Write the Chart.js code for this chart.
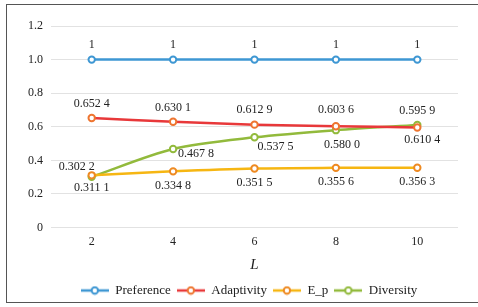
<!DOCTYPE html>
<html><head><meta charset="utf-8">
<script src="https://cdn.jsdelivr.net/npm/chart.js@4/dist/chart.umd.min.js"></script>
<style>
html,body{margin:0;padding:0;background:#fff;}
#wrap{position:relative;width:478px;height:307px;}
#frame{position:absolute;left:6px;top:4px;width:480px;height:299px;border-left:1.5px solid #555;border-top:1.5px solid #555;border-bottom:1.5px solid #555;box-sizing:border-box;pointer-events:none;}
canvas{position:absolute;left:0;top:0;}
</style></head>
<body><div id="wrap"><canvas id="c" width="478" height="307"></canvas><div id="frame"></div></div>
<script>
const categories = ['2','4','6','8','10'];
const preference = [1, 1, 1, 1, 1];
const adaptivity = [0.6524, 0.6301, 0.6129, 0.6036, 0.5959];
const eP = [0.3111, 0.3348, 0.3515, 0.3556, 0.3563];
const diversity = [0.3022, 0.4678, 0.5375, 0.5800, 0.6104];
const yTicks = [0, 0.2, 0.4, 0.6, 0.8, 1.0, 1.2];

const FONT = "'Liberation Serif', 'Times New Roman', serif";

function fmt(v){
  if (v === 1) return '1';
  const s = v.toFixed(4);
  return s.slice(0,5) + ' ' + s.slice(5);
}

function legendIcon(lineColor, markerColor){
  const c = document.createElement('canvas');
  c.width = 28; c.height = 10;
  const g = c.getContext('2d');
  g.strokeStyle = lineColor; g.lineWidth = 2.5;
  g.beginPath(); g.moveTo(0,5); g.lineTo(28,5); g.stroke();
  g.fillStyle = '#fff'; g.strokeStyle = markerColor; g.lineWidth = 2;
  g.beginPath(); g.arc(14,5,3.2,0,Math.PI*2); g.fill(); g.stroke();
  return c;
}

const series = [
  {label:'Preference', data:preference, line:'#3e97d3', marker:'#3e97d3', dx:[0,0,0,0,0], dy:[-15,-15,-15,-15,-15]},
  {label:'Adaptivity', data:adaptivity, line:'#e8383a', marker:'#ee7530', dx:[0,0,0,0,0], dy:[-14,-14,-15,-16,-17]},
  {label:'E_p', data:eP, line:'#f6b612', marker:'#ee8a22', dx:[0,0,0,0,0], dy:[13,14,14,14,14]},
  {label:'Diversity', data:diversity, line:'#92ba3c', marker:'#92ba3c', dx:[-15,23,21,6,5], dy:[-10,5,10,15,15]}
];

const labelPlugin = {
  id:'valLabels',
  afterLayout(chart){
    const lg = chart.legend;
    if (lg) { lg.left += 10; lg.right += 10; }
  },
  afterDatasetsDraw(chart){
    const ctx = chart.ctx;
    ctx.save();
    ctx.font = '12px ' + FONT;
    ctx.fillStyle = '#222';
    ctx.textAlign = 'center';
    ctx.textBaseline = 'middle';
    chart.data.datasets.forEach((ds, i) => {
      const meta = chart.getDatasetMeta(i);
      const s = series[i];
      meta.data.forEach((pt, j) => {
        ctx.fillText(fmt(ds.data[j]), pt.x + s.dx[j], pt.y + s.dy[j]);
      });
    });
    ctx.restore();
  }
};

new Chart(document.getElementById('c'), {
  type:'line',
  data:{
    labels:categories,
    datasets: series.map(s => ({
      label:s.label, data:s.data,
      borderColor:s.line, backgroundColor:'#fff',
      pointBorderColor:s.marker, pointBackgroundColor:'#fff',
      pointRadius:3.2, pointBorderWidth:2, borderWidth:2.5,
      pointStyle:'circle',
      tension:0.3, fill:false
    }))
  },
  options:{
    responsive:false, animation:false,
    layout:{padding:{left:20, right:20, top:26, bottom:0}},
    plugins:{
      legend:{
        position:'bottom',
        labels:{
          usePointStyle:true, pointStyleWidth:28, boxHeight:10,
          padding:6,
          font:{family:FONT, size:13}, color:'#222',
          generateLabels(chart){
            return series.map((s, i) => ({
              text:s.label, pointStyle:legendIcon(s.line, s.marker),
              fillStyle:'#fff', strokeStyle:s.marker, lineWidth:0,
              fontColor:'#222', hidden:false, datasetIndex:i
            }));
          }
        }
      },
      tooltip:{enabled:false}
    },
    scales:{
      x:{
        offset:true,
        grid:{display:false, drawTicks:false},
        border:{display:false},
        ticks:{font:{family:FONT, size:12}, color:'#222', padding:7},
        title:{display:true, text:'L', font:{family:FONT, size:15, style:'italic'}, color:'#222', padding:{top:0,bottom:4}}
      },
      y:{
        min:0, max:1.2,
        afterBuildTicks(scale){ scale.ticks = yTicks.map(v => ({value:v})); },
        grid:{color:'#e2e2e2', lineWidth:1, drawTicks:false},
        border:{display:false},
        ticks:{font:{family:FONT, size:12}, color:'#222', padding:8,
          callback:(v) => v === 0 ? '0' : v.toFixed(1)}
      }
    }
  },
  plugins:[labelPlugin]
});
</script>
</body></html>
